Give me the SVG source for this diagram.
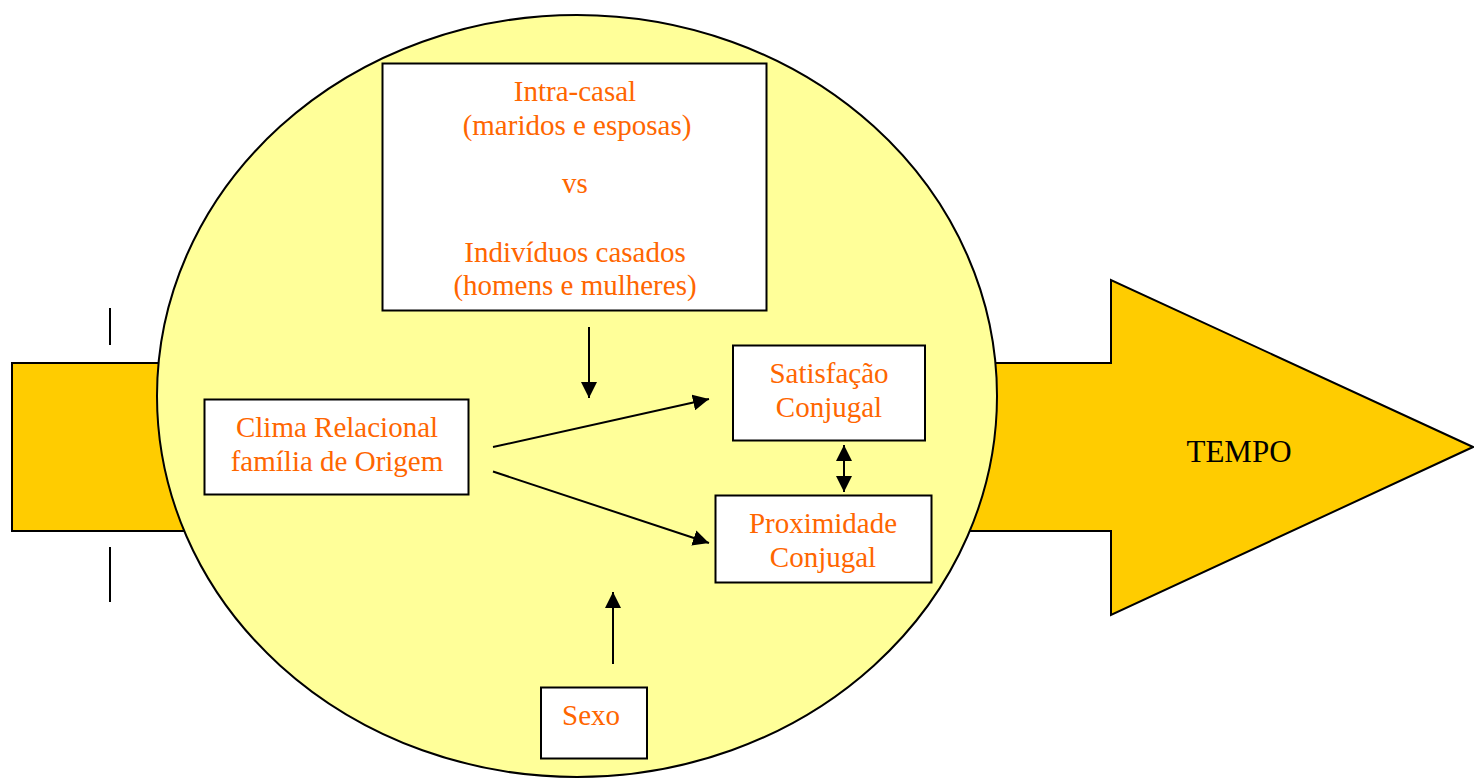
<svg xmlns="http://www.w3.org/2000/svg" width="1474" height="778" viewBox="0 0 1474 778">
<style>
.box{fill:#fff;stroke:#000;stroke-width:2}
.lbl{font-family:"Liberation Serif","Times New Roman",serif;font-size:29px;fill:#FF6600;text-anchor:middle}
.conn{stroke:#000;stroke-width:2;fill:none}
</style>
<defs>
<marker id="ah" viewBox="0 0 16 16" refX="16" refY="8" markerWidth="16" markerHeight="16" markerUnits="userSpaceOnUse" orient="auto-start-reverse">
<path d="M0,0 L16,8 L0,16 Z" fill="#000"/>
</marker>
</defs>
<g id="tempo">
<polygon points="12,363 1111,363 1111,280 1473,447 1111,615 1111,531 12,531" fill="#FFCC00" stroke="#000" stroke-width="2"/>
<text x="1239" y="462" font-family="'Liberation Serif','Times New Roman',serif" font-size="31" fill="#000" text-anchor="middle">TEMPO</text>
</g>
<g id="ticks">
<line x1="110" y1="308" x2="110" y2="345" stroke="#000" stroke-width="2"/>
<line x1="110" y1="547" x2="110" y2="602" stroke="#000" stroke-width="2"/>
</g>
<g id="circle">
<ellipse cx="577" cy="396" rx="420" ry="381" fill="#FFFF99" stroke="#000" stroke-width="2"/>
</g>
<g id="intra">
<rect class="box" x="382.5" y="63.5" width="384" height="247"/>
<text class="lbl" x="575" y="101">Intra-casal</text>
<text class="lbl" x="577" y="135">(maridos e esposas)</text>
<text class="lbl" x="575" y="193">vs</text>
<text class="lbl" x="575" y="262">Indivíduos casados</text>
<text class="lbl" x="575" y="295">(homens e mulheres)</text>
</g>
<g id="clima">
<rect class="box" x="204.5" y="399.5" width="264" height="95"/>
<text class="lbl" x="337" y="437">Clima Relacional</text>
<text class="lbl" x="337" y="471">família de Origem</text>
</g>
<g id="satisfacao">
<rect class="box" x="733" y="345.5" width="192" height="95"/>
<text class="lbl" x="829" y="383">Satisfação</text>
<text class="lbl" x="829" y="417">Conjugal</text>
</g>
<g id="proximidade">
<rect class="box" x="715.5" y="495.5" width="216" height="87"/>
<text class="lbl" x="823" y="533">Proximidade</text>
<text class="lbl" x="823" y="567">Conjugal</text>
</g>
<g id="sexo">
<rect class="box" x="541" y="687.5" width="106" height="71"/>
<text class="lbl" x="591" y="725">Sexo</text>
</g>
<g id="connectors">
<line class="conn" x1="589" y1="327" x2="589" y2="398" marker-end="url(#ah)"/>
<line class="conn" x1="493" y1="447" x2="709" y2="399" marker-end="url(#ah)"/>
<line class="conn" x1="493" y1="471.5" x2="709" y2="543" marker-end="url(#ah)"/>
<line class="conn" x1="844" y1="445" x2="844" y2="492" marker-start="url(#ah)" marker-end="url(#ah)"/>
<line class="conn" x1="613" y1="664" x2="613" y2="592" marker-end="url(#ah)"/>
</g>
</svg>
